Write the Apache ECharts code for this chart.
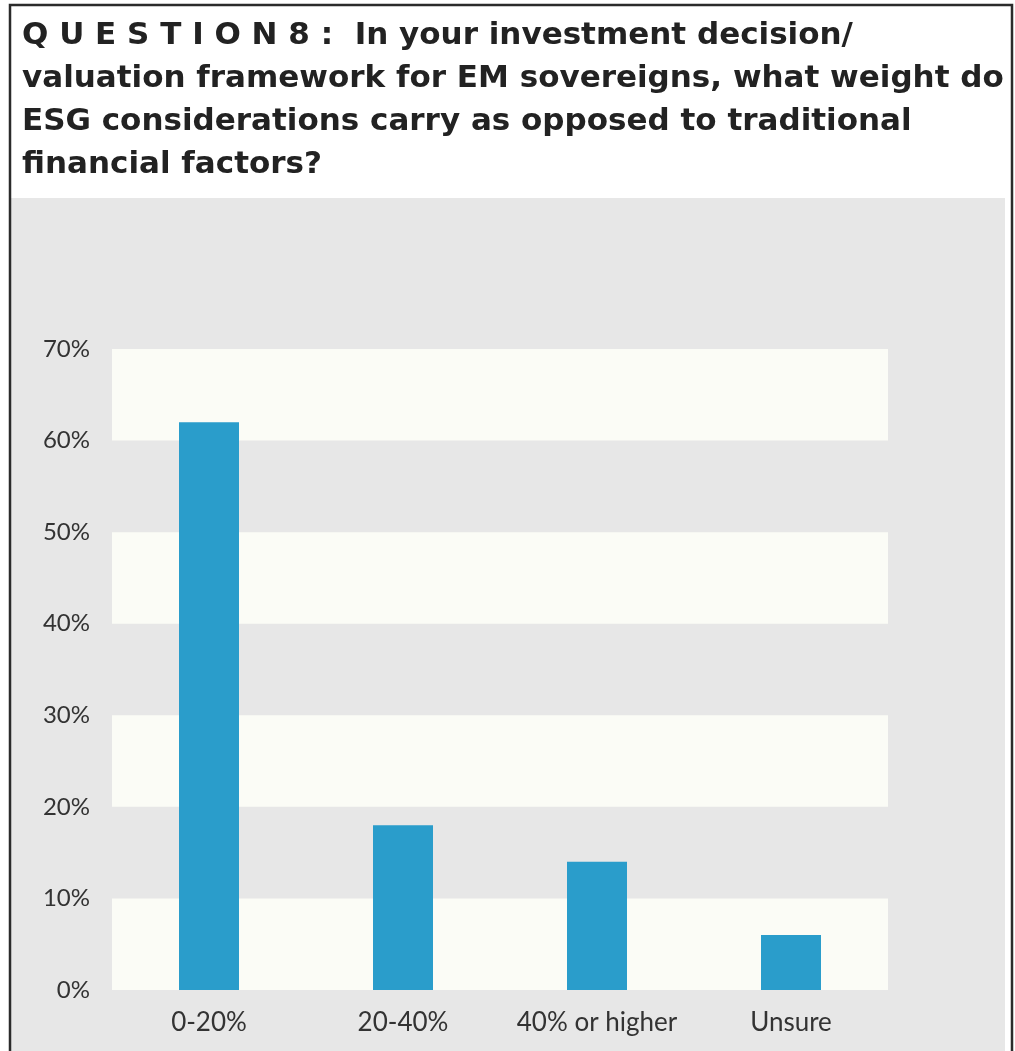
<!DOCTYPE html>
<html>
<head>
<meta charset="utf-8">
<style>
  html, body { margin: 0; padding: 0; background: #ffffff; }
  #chart { width: 1015px; height: 1051px; }
</style>
<script src="https://cdn.jsdelivr.net/npm/echarts@6/dist/echarts.min.js"></script>
</head>
<body>
<div id="chart"></div>
<script>
// Survey answers and share of respondents (%)
const categories = ['0-20%', '20-40%', '40% or higher', 'Unsure'];
const shares = [62, 18, 14, 6];
const yTicks = [0, 10, 20, 30, 40, 50, 60, 70];

const titleLines = [
  'In your investment decision/',
  'valuation framework for EM sovereigns, what weight do',
  'ESG considerations carry as opposed to traditional',
  'financial factors?'
];

const chart = echarts.init(document.getElementById('chart'), null, { renderer: 'canvas' });

const textColor = '#333333';
const uiFont = 'Lato, "Open Sans", "Noto Sans", sans-serif';
const titleFont = '"DejaVu Sans", Roboto, sans-serif';

chart.setOption({
  animation: false,
  backgroundColor: '#ffffff',
  graphic: [
    // framed box with grey chart panel
    { type: 'rect', z: -10, shape: { x: 11, y: 198, width: 994, height: 860 }, style: { fill: '#e7e7e7' } },
    { type: 'rect', z: 10, shape: { x: 10, y: 5, width: 1002, height: 1070 }, style: { fill: 'none', stroke: '#2b2b2b', lineWidth: 2.5 } }
  ],
  title: {
    left: 17,
    top: 9,
    text: '{q|Q U E S T I O N 8 :}  ' + titleLines.join('\n'),
    textStyle: {
      fontFamily: titleFont,
      fontSize: 31,
      fontWeight: 'bold',
      color: '#222222',
      lineHeight: 43,
      rich: {
        q: {
          fontFamily: titleFont,
          fontSize: 31,
          fontWeight: 'bold',
          color: '#222222',
          lineHeight: 43
        }
      }
    }
  },
  grid: { left: 112, right: 127, top: 349, bottom: 61 },
  xAxis: {
    type: 'category',
    data: categories,
    axisLine: { show: false },
    axisTick: { show: false },
    axisLabel: { interval: 0, hideOverlap: false, color: textColor, fontFamily: uiFont, fontSize: 26, margin: 20 }
  },
  yAxis: {
    type: 'value',
    min: yTicks[0],
    max: yTicks[yTicks.length - 1],
    interval: yTicks[1] - yTicks[0],
    axisLine: { show: false },
    axisTick: { show: false },
    splitLine: { show: false },
    splitArea: { show: true, areaStyle: { color: ['#fbfcf6', 'rgba(0,0,0,0)'] } },
    axisLabel: { color: textColor, fontFamily: uiFont, fontSize: 24, margin: 22, formatter: '{value}%' }
  },
  series: [{
    type: 'bar',
    data: shares,
    barWidth: 60,
    itemStyle: { color: '#2a9dcb' }
  }]
});
</script>
</body>
</html>
